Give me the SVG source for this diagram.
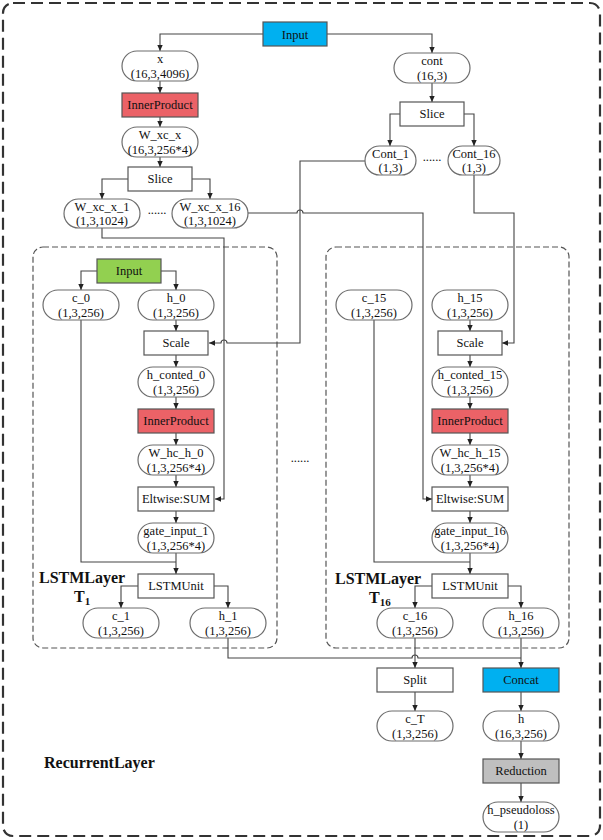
<svg xmlns="http://www.w3.org/2000/svg" width="603" height="840" viewBox="0 0 603 840">
<defs>
<style>
.n{fill:#fff;stroke:#6d6d6d;stroke-width:1.2}
.b{stroke:#555;stroke-width:1.2}
.blue{fill:#00B0F0}
.red{fill:#EB6267}
.green{fill:#92D050}
.gray{fill:#BFBFBF}
.white{fill:#fff}
text{font-family:"Liberation Serif","Times New Roman",serif;font-size:12.5px;fill:#111;text-anchor:middle}
.lbl{font-weight:bold;font-size:16px;text-anchor:start}
.c{fill:none;stroke:#444;stroke-width:1.1}
.a{marker-end:url(#arr)}
.outer{fill:none;stroke:#333;stroke-width:2.2;stroke-dasharray:12 6}
.inner{fill:none;stroke:#555;stroke-width:1.2;stroke-dasharray:6 3}
</style>
<marker id="arr" markerWidth="6" markerHeight="6" refX="6" refY="3" orient="auto" markerUnits="userSpaceOnUse"><path d="M0,0.3 L6,3 L0,5.7 z" fill="#222"/></marker>
</defs>
<rect class="outer" x="3" y="3" width="597" height="833" rx="10"/>
<rect class="inner" x="33" y="247" width="244" height="401" rx="10"/>
<rect class="inner" x="326" y="247" width="243" height="401" rx="10"/>
<g id="connectors">
<path class="c a" d="M263,34 H160 V51"/>
<path class="c a" d="M327,34 H432 V53"/>
<path class="c a" d="M160,81 V93"/>
<path class="c a" d="M160,117 V127"/>
<path class="c a" d="M160,157 V167"/>
<path class="c a" d="M128,179 H102 V199"/>
<path class="c a" d="M192,179 H210 V199"/>
<path class="c a" d="M432,83 V102"/>
<path class="c a" d="M400,114 H390 V146"/>
<path class="c a" d="M464,114 H474 V146"/>
<path class="c a" d="M365,161 H300 V343 H227 A3,3 0 0 0 221,343 H209"/>
<path class="c a" d="M102,228 V238 H224 V499 H215"/>
<path class="c a" d="M248,213 H297 A3,3 0 0 1 303,213 H423 V499 H432"/>
<path class="c a" d="M474,175 V213 H514 V343 H502"/>
<path class="c a" d="M97,271 H81 V290"/>
<path class="c a" d="M161,271 H176 V290"/>
<path class="c a" d="M176,320 V331"/>
<path class="c a" d="M176,355 V367"/>
<path class="c a" d="M176,397 V409"/>
<path class="c a" d="M176,433 V445"/>
<path class="c a" d="M176,475 V487"/>
<path class="c a" d="M176,511 V523"/>
<path class="c a" d="M176,553 V574"/>
<path class="c" d="M81,320 V562 H176"/>
<path class="c a" d="M138,586 H121 V608"/>
<path class="c a" d="M214,586 H228 V608"/>
<path class="c a" d="M470,320 V331"/>
<path class="c a" d="M470,355 V367"/>
<path class="c a" d="M470,397 V409"/>
<path class="c a" d="M470,433 V445"/>
<path class="c a" d="M470,475 V487"/>
<path class="c a" d="M470,511 V523"/>
<path class="c a" d="M470,553 V574"/>
<path class="c" d="M374,320 V562 H470"/>
<path class="c a" d="M432,586 H415 V608"/>
<path class="c a" d="M508,586 H521 V608"/>
<path class="c a" d="M415,638 V668"/>
<path class="c a" d="M521,638 V668"/>
<path class="c" d="M228,638 V658 H412 A3,3 0 0 1 418,658 H521"/>
<path class="c a" d="M415,692 V711"/>
<path class="c a" d="M521,692 V711"/>
<path class="c a" d="M521,741 V759"/>
<path class="c a" d="M521,783 V802"/>
</g>
<g id="input_top"><rect class="b blue" x="263" y="22" width="64" height="24"/><text x="295" y="38.5">Input</text></g>
<g id="x"><rect class="n" x="122" y="51" width="76" height="30" rx="15"/><text x="160" y="63">x</text><text x="160" y="77.5">(16,3,4096)</text></g>
<g id="ip_x"><rect class="b red" x="122" y="93" width="76" height="24"/><text x="160" y="109">InnerProduct</text></g>
<g id="w_xc_x"><rect class="n" x="122" y="127" width="76" height="30" rx="15"/><text x="160" y="139">W_xc_x</text><text x="160" y="153.5">(16,3,256*4)</text></g>
<g id="slice_x"><rect class="b white" x="128" y="167" width="64" height="24"/><text x="160" y="183">Slice</text></g>
<g id="w_xc_x_1"><rect class="n" x="64" y="199" width="76" height="29" rx="14.5"/><text x="102" y="210.5">W_xc_x_1</text><text x="102" y="225">(1,3,1024)</text></g>
<g id="dots1"><text x="157" y="214">......</text></g>
<g id="w_xc_x_16"><rect class="n" x="172" y="199" width="76" height="29" rx="14.5"/><text x="210" y="210.5">W_xc_x_16</text><text x="210" y="225">(1,3,1024)</text></g>
<g id="cont"><rect class="n" x="394" y="53" width="76" height="30" rx="15"/><text x="432" y="65">cont</text><text x="432" y="79.5">(16,3)</text></g>
<g id="slice_cont"><rect class="b white" x="400" y="102" width="64" height="24"/><text x="432" y="118">Slice</text></g>
<g id="cont_1"><rect class="n" x="365" y="146" width="51" height="29" rx="14.5"/><text x="390.5" y="157.5">Cont_1</text><text x="390.5" y="172">(1,3)</text></g>
<g id="dots2"><text x="432" y="161">......</text></g>
<g id="cont_16"><rect class="n" x="448" y="146" width="52" height="29" rx="14.5"/><text x="474" y="157.5">Cont_16</text><text x="474" y="172">(1,3)</text></g>

<g id="input_green"><rect class="b green" x="97" y="259" width="64" height="24"/><text x="129" y="275">Input</text></g>
<g id="c_0"><rect class="n" x="43" y="290" width="76" height="30" rx="15"/><text x="81" y="302">c_0</text><text x="81" y="316.5">(1,3,256)</text></g>
<g id="h_0"><rect class="n" x="138" y="290" width="76" height="30" rx="15"/><text x="176" y="302">h_0</text><text x="176" y="316.5">(1,3,256)</text></g>
<g id="scale_0"><rect class="b white" x="144" y="331" width="64" height="24"/><text x="176" y="347">Scale</text></g>
<g id="h_conted_0"><rect class="n" x="138" y="367" width="76" height="30" rx="15"/><text x="176" y="379">h_conted_0</text><text x="176" y="393.5">(1,3,256)</text></g>
<g id="ip_0"><rect class="b red" x="138" y="409" width="76" height="24"/><text x="176" y="425">InnerProduct</text></g>
<g id="w_hc_h_0"><rect class="n" x="138" y="445" width="76" height="30" rx="15"/><text x="176" y="457">W_hc_h_0</text><text x="176" y="471.5">(1,3,256*4)</text></g>
<g id="sum_0"><rect class="b white" x="138" y="487" width="76" height="24"/><text x="176" y="503">Eltwise:SUM</text></g>
<g id="gate_input_1"><rect class="n" x="138" y="523" width="76" height="30" rx="15"/><text x="176" y="535">gate_input_1</text><text x="176" y="549.5">(1,3,256*4)</text></g>
<g id="lstmunit_1"><rect class="b white" x="138" y="574" width="76" height="24"/><text x="176" y="590">LSTMUnit</text></g>
<g id="c_1"><rect class="n" x="83" y="608" width="76" height="30" rx="15"/><text x="121" y="620">c_1</text><text x="121" y="634.5">(1,3,256)</text></g>
<g id="h_1"><rect class="n" x="190" y="608" width="76" height="30" rx="15"/><text x="228" y="620">h_1</text><text x="228" y="634.5">(1,3,256)</text></g>
<g id="label_t1"><text class="lbl" x="39" y="583">LSTMLayer</text><text class="lbl" x="74" y="602">T<tspan font-size="11" dy="3">1</tspan></text></g>

<g id="dots3"><text x="300" y="462">......</text></g>

<g id="c_15"><rect class="n" x="336" y="290" width="76" height="30" rx="15"/><text x="374" y="302">c_15</text><text x="374" y="316.5">(1,3,256)</text></g>
<g id="h_15"><rect class="n" x="432" y="290" width="76" height="30" rx="15"/><text x="470" y="302">h_15</text><text x="470" y="316.5">(1,3,256)</text></g>
<g id="scale_15"><rect class="b white" x="438" y="331" width="64" height="24"/><text x="470" y="347">Scale</text></g>
<g id="h_conted_15"><rect class="n" x="432" y="367" width="76" height="30" rx="15"/><text x="470" y="379">h_conted_15</text><text x="470" y="393.5">(1,3,256)</text></g>
<g id="ip_15"><rect class="b red" x="432" y="409" width="76" height="24"/><text x="470" y="425">InnerProduct</text></g>
<g id="w_hc_h_15"><rect class="n" x="432" y="445" width="76" height="30" rx="15"/><text x="470" y="457">W_hc_h_15</text><text x="470" y="471.5">(1,3,256*4)</text></g>
<g id="sum_15"><rect class="b white" x="432" y="487" width="76" height="24"/><text x="470" y="503">Eltwise:SUM</text></g>
<g id="gate_input_16"><rect class="n" x="432" y="523" width="76" height="30" rx="15"/><text x="470" y="535">gate_input_16</text><text x="470" y="549.5">(1,3,256*4)</text></g>
<g id="lstmunit_16"><rect class="b white" x="432" y="574" width="76" height="24"/><text x="470" y="590">LSTMUnit</text></g>
<g id="c_16"><rect class="n" x="377" y="608" width="76" height="30" rx="15"/><text x="415" y="620">c_16</text><text x="415" y="634.5">(1,3,256)</text></g>
<g id="h_16"><rect class="n" x="483" y="608" width="76" height="30" rx="15"/><text x="521" y="620">h_16</text><text x="521" y="634.5">(1,3,256)</text></g>
<g id="label_t16"><text class="lbl" x="335" y="584">LSTMLayer</text><text class="lbl" x="369" y="603">T<tspan font-size="11" dy="3">16</tspan></text></g>

<g id="split"><rect class="b white" x="377" y="668" width="76" height="24"/><text x="415" y="684">Split</text></g>
<g id="concat"><rect class="b blue" x="483" y="668" width="76" height="24"/><text x="521" y="684">Concat</text></g>
<g id="c_T"><rect class="n" x="377" y="711" width="76" height="30" rx="15"/><text x="415" y="723">c_T</text><text x="415" y="737.5">(1,3,256)</text></g>
<g id="h"><rect class="n" x="483" y="711" width="76" height="30" rx="15"/><text x="521" y="723">h</text><text x="521" y="737.5">(16,3,256)</text></g>
<g id="reduction"><rect class="b gray" x="483" y="759" width="76" height="24"/><text x="521" y="775">Reduction</text></g>
<g id="h_pseudoloss"><rect class="n" x="483" y="802" width="76" height="30" rx="15"/><text x="521" y="814">h_pseudoloss</text><text x="521" y="828.5">(1)</text></g>
<g id="label_recurrent"><text class="lbl" x="44" y="768">RecurrentLayer</text></g>
</svg>
